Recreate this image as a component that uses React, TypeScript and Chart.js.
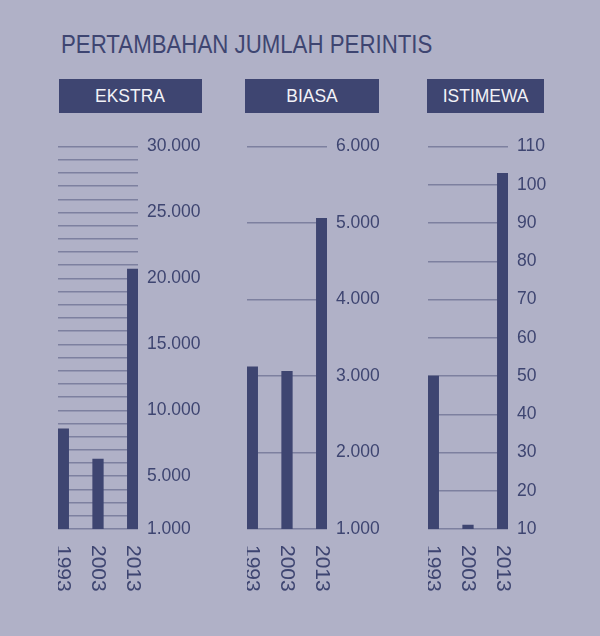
import React, { useEffect, useRef } from "react";
import { Chart, registerables } from "chart.js";

Chart.register(...registerables);

const years = ["1993", "2003", "2013"];

const ekstraValues = [8600, 6300, 20700];
const biasaValues = [3120, 3060, 5060];
const istimewaValues = [50, 11, 103];

// ticks that get a label (gridlines are drawn at every step)
const ekstraTickLabels = [1000, 5000, 10000, 15000, 20000, 25000, 30000];
const biasaTickLabels = [1000, 2000, 3000, 4000, 5000, 6000];
const istimewaTickLabels = [10, 20, 30, 40, 50, 60, 70, 80, 90, 100, 110];

const NAVY = "#3e4571";
const BG = "#b0b1c7";
const GRID = "#7d809f";
const FONT = "'Liberation Sans', Arial, sans-serif";

const fmt = (v: number) =>
  String(v).replace(/\B(?=(\d{3})+(?!\d))/g, ".");

type PanelProps = {
  values: number[];
  min: number;
  max: number;
  step: number;
  labeled: number[];
  left: number;
};

const Panel: React.FC<PanelProps> = ({ values, min, max, step, labeled, left }) => {
  const chartRef = useRef<HTMLCanvasElement | null>(null);
  const chartInstance = useRef<Chart | null>(null);

  useEffect(() => {
    if (!chartRef.current) return;
    const ctx = chartRef.current.getContext("2d");
    if (!ctx) return;
    if (chartInstance.current) chartInstance.current.destroy();

    // years are written rotated (top to bottom) under each bar
    const yearLabels = {
      id: "yearLabels",
      afterDraw(chart: any) {
        const { ctx, chartArea, scales } = chart;
        ctx.save();
        ctx.fillStyle = NAVY;
        ctx.font = `21px ${FONT}`;
        ctx.textBaseline = "alphabetic";
        ctx.textAlign = "left";
        years.forEach((y, i) => {
          const x = scales.x.getPixelForValue(i);
          ctx.save();
          ctx.translate(x - 6, chartArea.bottom + 16);
          ctx.rotate(Math.PI / 2);
          ctx.fillText(y, 0, 0);
          ctx.restore();
        });
        ctx.restore();
      },
    };

    chartInstance.current = new Chart(ctx, {
      type: "bar",
      data: {
        datasets: [
          {
            data: values.map((v, i) => ({ x: i, y: v })),
            backgroundColor: NAVY,
            borderWidth: 0,
            barThickness: 10.6,
          },
        ],
      },
      options: {
        animation: false,
        responsive: true,
        maintainAspectRatio: false,
        layout: { padding: { top: 15, bottom: 70, left: 0, right: 0 } },
        plugins: { legend: { display: false }, tooltip: { enabled: false } },
        scales: {
          x: { type: "linear", min: -0.154, max: 2.154, offset: false, display: false },
          y: {
            position: "right",
            min,
            max,
            border: { display: false },
            grid: { color: GRID, lineWidth: 1.5, drawTicks: false },
            ticks: {
              stepSize: step,
              autoSkip: false,
              padding: 9,
              color: NAVY,
              font: { size: 17.5, family: FONT },
              callback: (v: any) => (labeled.includes(Number(v)) ? fmt(Number(v)) : ""),
            },
            afterFit: (s: any) => {
              s.width = 70;
            },
          },
        },
      } as any,
      plugins: [yearLabels],
    });

    return () => {
      if (chartInstance.current) {
        chartInstance.current.destroy();
        chartInstance.current = null;
      }
    };
  }, []);

  return (
    <div style={{ position: "absolute", left, top: 127, width: 150, height: 472 }}>
      <canvas ref={chartRef}></canvas>
    </div>
  );
};

const Header: React.FC<{ text: string; left: number; width: number }> = ({ text, left, width }) => (
  <div
    style={{
      position: "absolute",
      left,
      top: 79,
      width,
      height: 34,
      background: NAVY,
      color: "#f2f2f7",
      display: "flex",
      alignItems: "center",
      justifyContent: "center",
      fontFamily: FONT,
      fontSize: 19,
    }}
  >
    <span style={{ display: "inline-block", transform: "scaleX(0.92)" }}>{text}</span>
  </div>
);

const App: React.FC = () => {
  return (
    <div style={{ position: "fixed", left: 0, top: 0, width: 600, height: 636, background: BG, overflow: "hidden" }}>
      <div
        style={{
          position: "absolute",
          left: 61,
          top: 32,
          fontFamily: FONT,
          fontSize: 25,
          lineHeight: "25px",
          color: NAVY,
          whiteSpace: "nowrap",
          transform: "scaleX(0.89)",
          transformOrigin: "left",
        }}
      >
        PERTAMBAHAN JUMLAH PERINTIS
      </div>
      <Header text="EKSTRA" left={59} width={143} />
      <Header text="BIASA" left={245} width={134} />
      <Header text="ISTIMEWA" left={427} width={117} />
      <Panel values={ekstraValues} min={1000} max={30000} step={1000} labeled={ekstraTickLabels} left={58} />
      <Panel values={biasaValues} min={1000} max={6000} step={1000} labeled={biasaTickLabels} left={247} />
      <Panel values={istimewaValues} min={10} max={110} step={10} labeled={istimewaTickLabels} left={428} />
    </div>
  );
};

export default App;
